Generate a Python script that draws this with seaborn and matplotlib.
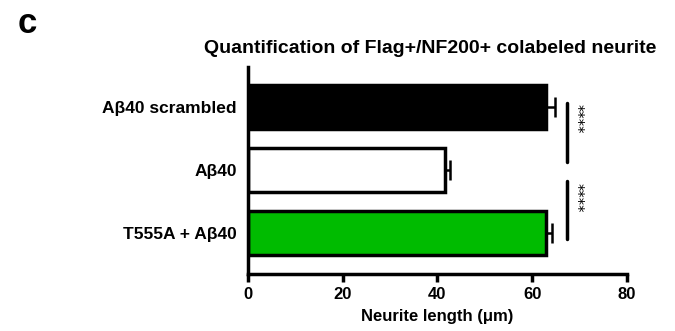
import pandas as pd
import seaborn as sns
import matplotlib.pyplot as plt

# datos
grupos = ['Aβ40 scrambled', 'Aβ40', 'T555A + Aβ40']
longitud = [62.9, 41.6, 63.0]
sem = [1.9, 1.1, 1.2]
colores = ['#000000', '#ffffff', '#00bb00']

df = pd.DataFrame({'grupo': grupos, 'longitud': longitud})

sns.set_style('ticks')
plt.rcParams['font.family'] = ['Liberation Sans', 'DejaVu Sans']
plt.rcParams['font.weight'] = 'bold'
plt.rcParams['text.color'] = 'black'
plt.rcParams['axes.labelcolor'] = 'black'
plt.rcParams['xtick.color'] = 'black'
plt.rcParams['ytick.color'] = 'black'
plt.rcParams['axes.edgecolor'] = 'black'

fig = plt.figure(figsize=(6.75, 3.31), dpi=100)
ax = fig.add_axes([0.367, 0.172, 0.562, 0.626])

sns.barplot(data=df, y='grupo', x='longitud', hue='grupo', palette=colores,
            orient='h', width=0.7, edgecolor='black', linewidth=2.5,
            saturation=1, legend=False, ax=ax)

# barras de error (solo lado derecho)
ax.errorbar(longitud, range(len(grupos)), xerr=[[0] * len(sem), sem],
            fmt='none', ecolor='black', elinewidth=1.8, capsize=7, capthick=1.8)

ax.set_xlim(0, 80)
ax.set_ylim(2.65, -0.635)
ax.set_xticks([0, 20, 40, 60, 80])
ax.set_xlabel('Neurite length (μm)', fontsize=12, fontweight='bold', labelpad=5)
ax.set_ylabel('')
ax.tick_params(axis='x', width=2.5, length=6, labelsize=12)
ax.tick_params(axis='y', length=0, labelsize=12.5, pad=8)
for s in ['left', 'bottom']:
    ax.spines[s].set_linewidth(2.5)
sns.despine(ax=ax)
for lab in ax.get_xticklabels() + ax.get_yticklabels():
    lab.set_fontweight('bold')

# significancia
for y0, y1 in [(-0.06, 0.88), (1.18, 2.1)]:
    ax.plot([67.3, 67.3], [y0, y1], color='black', lw=2.5, clip_on=False)
    ax.text(69.3, y0 + 0.02, '****', rotation=270, ha='center', va='top',
            fontsize=10.5, fontweight='normal', family='DejaVu Sans')

ax.set_title('Quantification of Flag+/NF200+ colabeled neurite',
             fontsize=14, fontweight='bold', pad=10, x=0.482)
fig.text(0.026, 0.9, 'c', fontsize=25, fontweight='bold')

plt.savefig('out.png', dpi=100)
